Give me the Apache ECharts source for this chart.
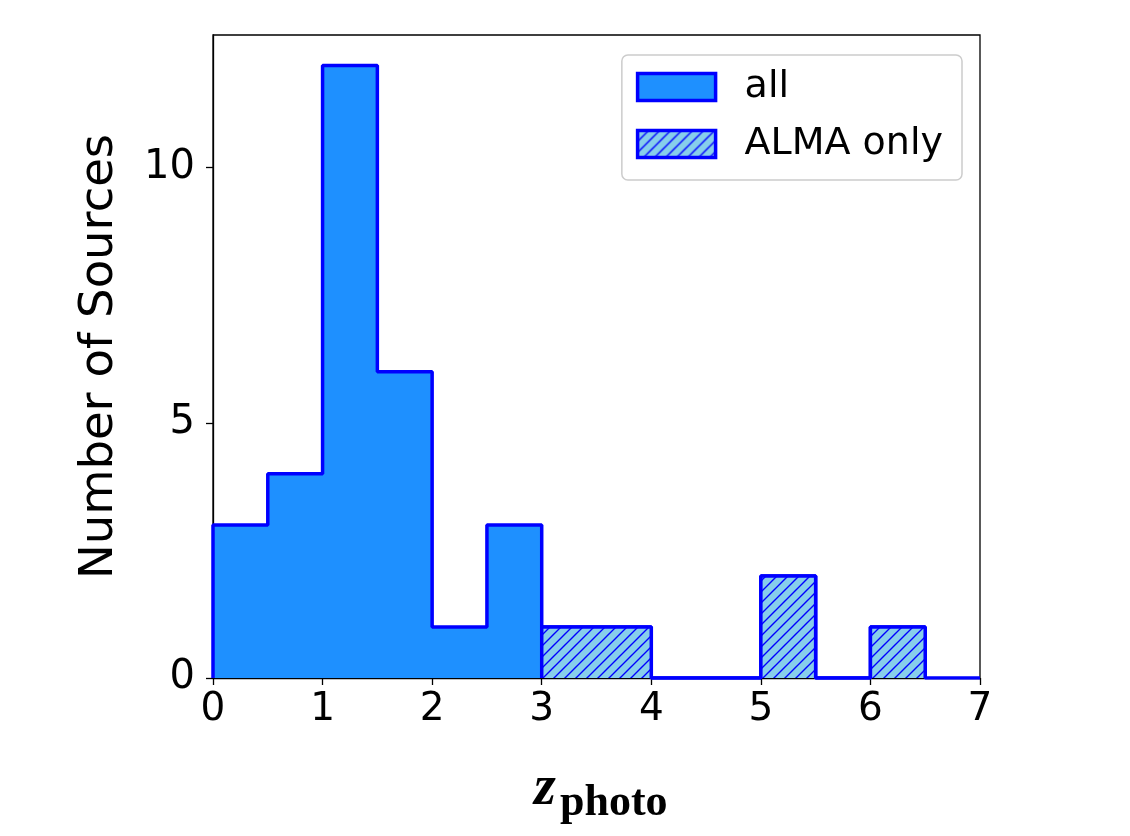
<!DOCTYPE html>
<html>
<head>
<meta charset="utf-8">
<script src="https://cdn.jsdelivr.net/npm/echarts@6/dist/echarts.min.js"></script>
<style>
  html, body { margin: 0; padding: 0; background: #fff; }
  #main { width: 1130px; height: 836px; }
</style>
</head>
<body>
<div id="main"></div>
<script>
// bin edges of z_photo (width 0.5)
var binEdges = [0, 0.5, 1, 1.5, 2, 2.5, 3, 3.5, 4, 4.5, 5, 5.5, 6, 6.5, 7];
// counts per bin
var allCounts  = [3, 4, 12, 6, 1, 3, 1, 1, 0, 0, 2, 0, 1, 0];
var almaCounts = [0, 0, 0, 0, 0, 0, 1, 1, 0, 0, 2, 0, 1, 0];
var xTicks = [0, 1, 2, 3, 4, 5, 6, 7];
var yTicks = [0, 5, 10];

// turn bin counts into step points [edge, count]
function stepPoints(counts, from, to) {
    var pts = [[binEdges[from], 0]];
    for (var i = from; i < to; i++) {
        pts.push([binEdges[i], counts[i]]);
    }
    pts.push([binEdges[to], 0]);
    return pts;
}

// hatch pattern  (////)
var hatch = document.createElement('canvas');
hatch.width = 11;
hatch.height = 11;
var ctx = hatch.getContext('2d');
ctx.fillStyle = '#87ceeb';
ctx.fillRect(0, 0, 11, 11);
ctx.strokeStyle = '#0000ff';
ctx.lineWidth = 1.4;
ctx.beginPath();
ctx.moveTo(0, 11); ctx.lineTo(11, 0);
ctx.moveTo(-2, 2); ctx.lineTo(2, -2);
ctx.moveTo(9, 13); ctx.lineTo(13, 9);
ctx.stroke();
var hatchFill = { image: hatch, repeat: 'repeat' };

var myChart = echarts.init(document.getElementById('main'));

var option = {
    animation: false,
    textStyle: { fontFamily: 'DejaVu Sans', color: '#000' },
    grid: {
        left: 213, right: 150, top: 35, bottom: 158,
        show: true, borderColor: '#000', borderWidth: 1.3,
        backgroundColor: 'transparent'
    },
    legend: {
        orient: 'vertical',
        right: 168,
        top: 55,
        padding: [13, 19, 17, 14],
        itemWidth: 78,
        itemHeight: 27,
        itemGap: 19,
        icon: 'rect',
        borderColor: '#cccccc',
        borderWidth: 1.5,
        borderRadius: 6,
        backgroundColor: '#fff',
        textStyle: { fontSize: 38, color: '#000', padding: [0, 0, 0, 24] },
        data: [
            { name: 'all', itemStyle: { color: '#1e90ff', borderColor: '#0000ff', borderWidth: 3.5 } },
            { name: 'ALMA only', itemStyle: { color: hatchFill, borderColor: '#0000ff', borderWidth: 3.5 } }
        ]
    },
    xAxis: {
        type: 'value',
        min: 0, max: 7, interval: 1,
        axisLine: { show: true, onZero: false, lineStyle: { color: '#000', width: 1.3 } },
        axisTick: { show: true, inside: false, length: 7, lineStyle: { color: '#000', width: 1.3 } },
        axisLabel: {
            fontSize: 39, color: '#000', margin: 12,
            formatter: function (v) { return xTicks.indexOf(v) >= 0 ? String(v) : ''; }
        },
        splitLine: { show: false }
    },
    yAxis: {
        type: 'value',
        min: 0, max: 12.6, interval: 5,
        name: 'Number of Sources',
        nameLocation: 'middle',
        nameGap: 90,
        nameTextStyle: { fontSize: 46.5, color: '#000' },
        axisLine: { show: true, lineStyle: { color: '#000', width: 1.3 } },
        axisTick: { show: true, inside: false, length: 7, lineStyle: { color: '#000', width: 1.3 } },
        axisLabel: {
            fontSize: 40, color: '#000', margin: 18, showMaxLabel: false,
            formatter: function (v) { return yTicks.indexOf(v) >= 0 ? String(v) : ''; }
        },
        splitLine: { show: false }
    },
    graphic: [
        {
            type: 'text',
            left: 534, top: 762,
            style: { text: 'z', font: 'italic bold 56px "Liberation Serif"', fill: '#000' }
        },
        {
            type: 'text',
            left: 560, top: 782,
            style: { text: 'photo', font: 'bold 44px "Liberation Serif"', fill: '#000' }
        }
    ],
    series: [
        {
            name: 'all',
            type: 'line',
            step: 'end',
            showSymbol: false,
            data: stepPoints(allCounts, 0, 14),
            itemStyle: { color: '#1e90ff' },
            lineStyle: { color: '#0000ff', width: 3.5 },
            areaStyle: { color: '#1e90ff', opacity: 1 },
            z: 2
        },
        {
            name: 'ALMA only',
            type: 'line',
            step: 'end',
            showSymbol: false,
            data: stepPoints(almaCounts, 6, 13),
            itemStyle: { color: '#87ceeb' },
            lineStyle: { color: '#0000ff', width: 3.5 },
            areaStyle: { color: hatchFill, opacity: 1 },
            z: 3
        }
    ]
};

myChart.setOption(option);

window.addEventListener('resize', function() {
    myChart.resize();
});
</script>
</body>
</html>
